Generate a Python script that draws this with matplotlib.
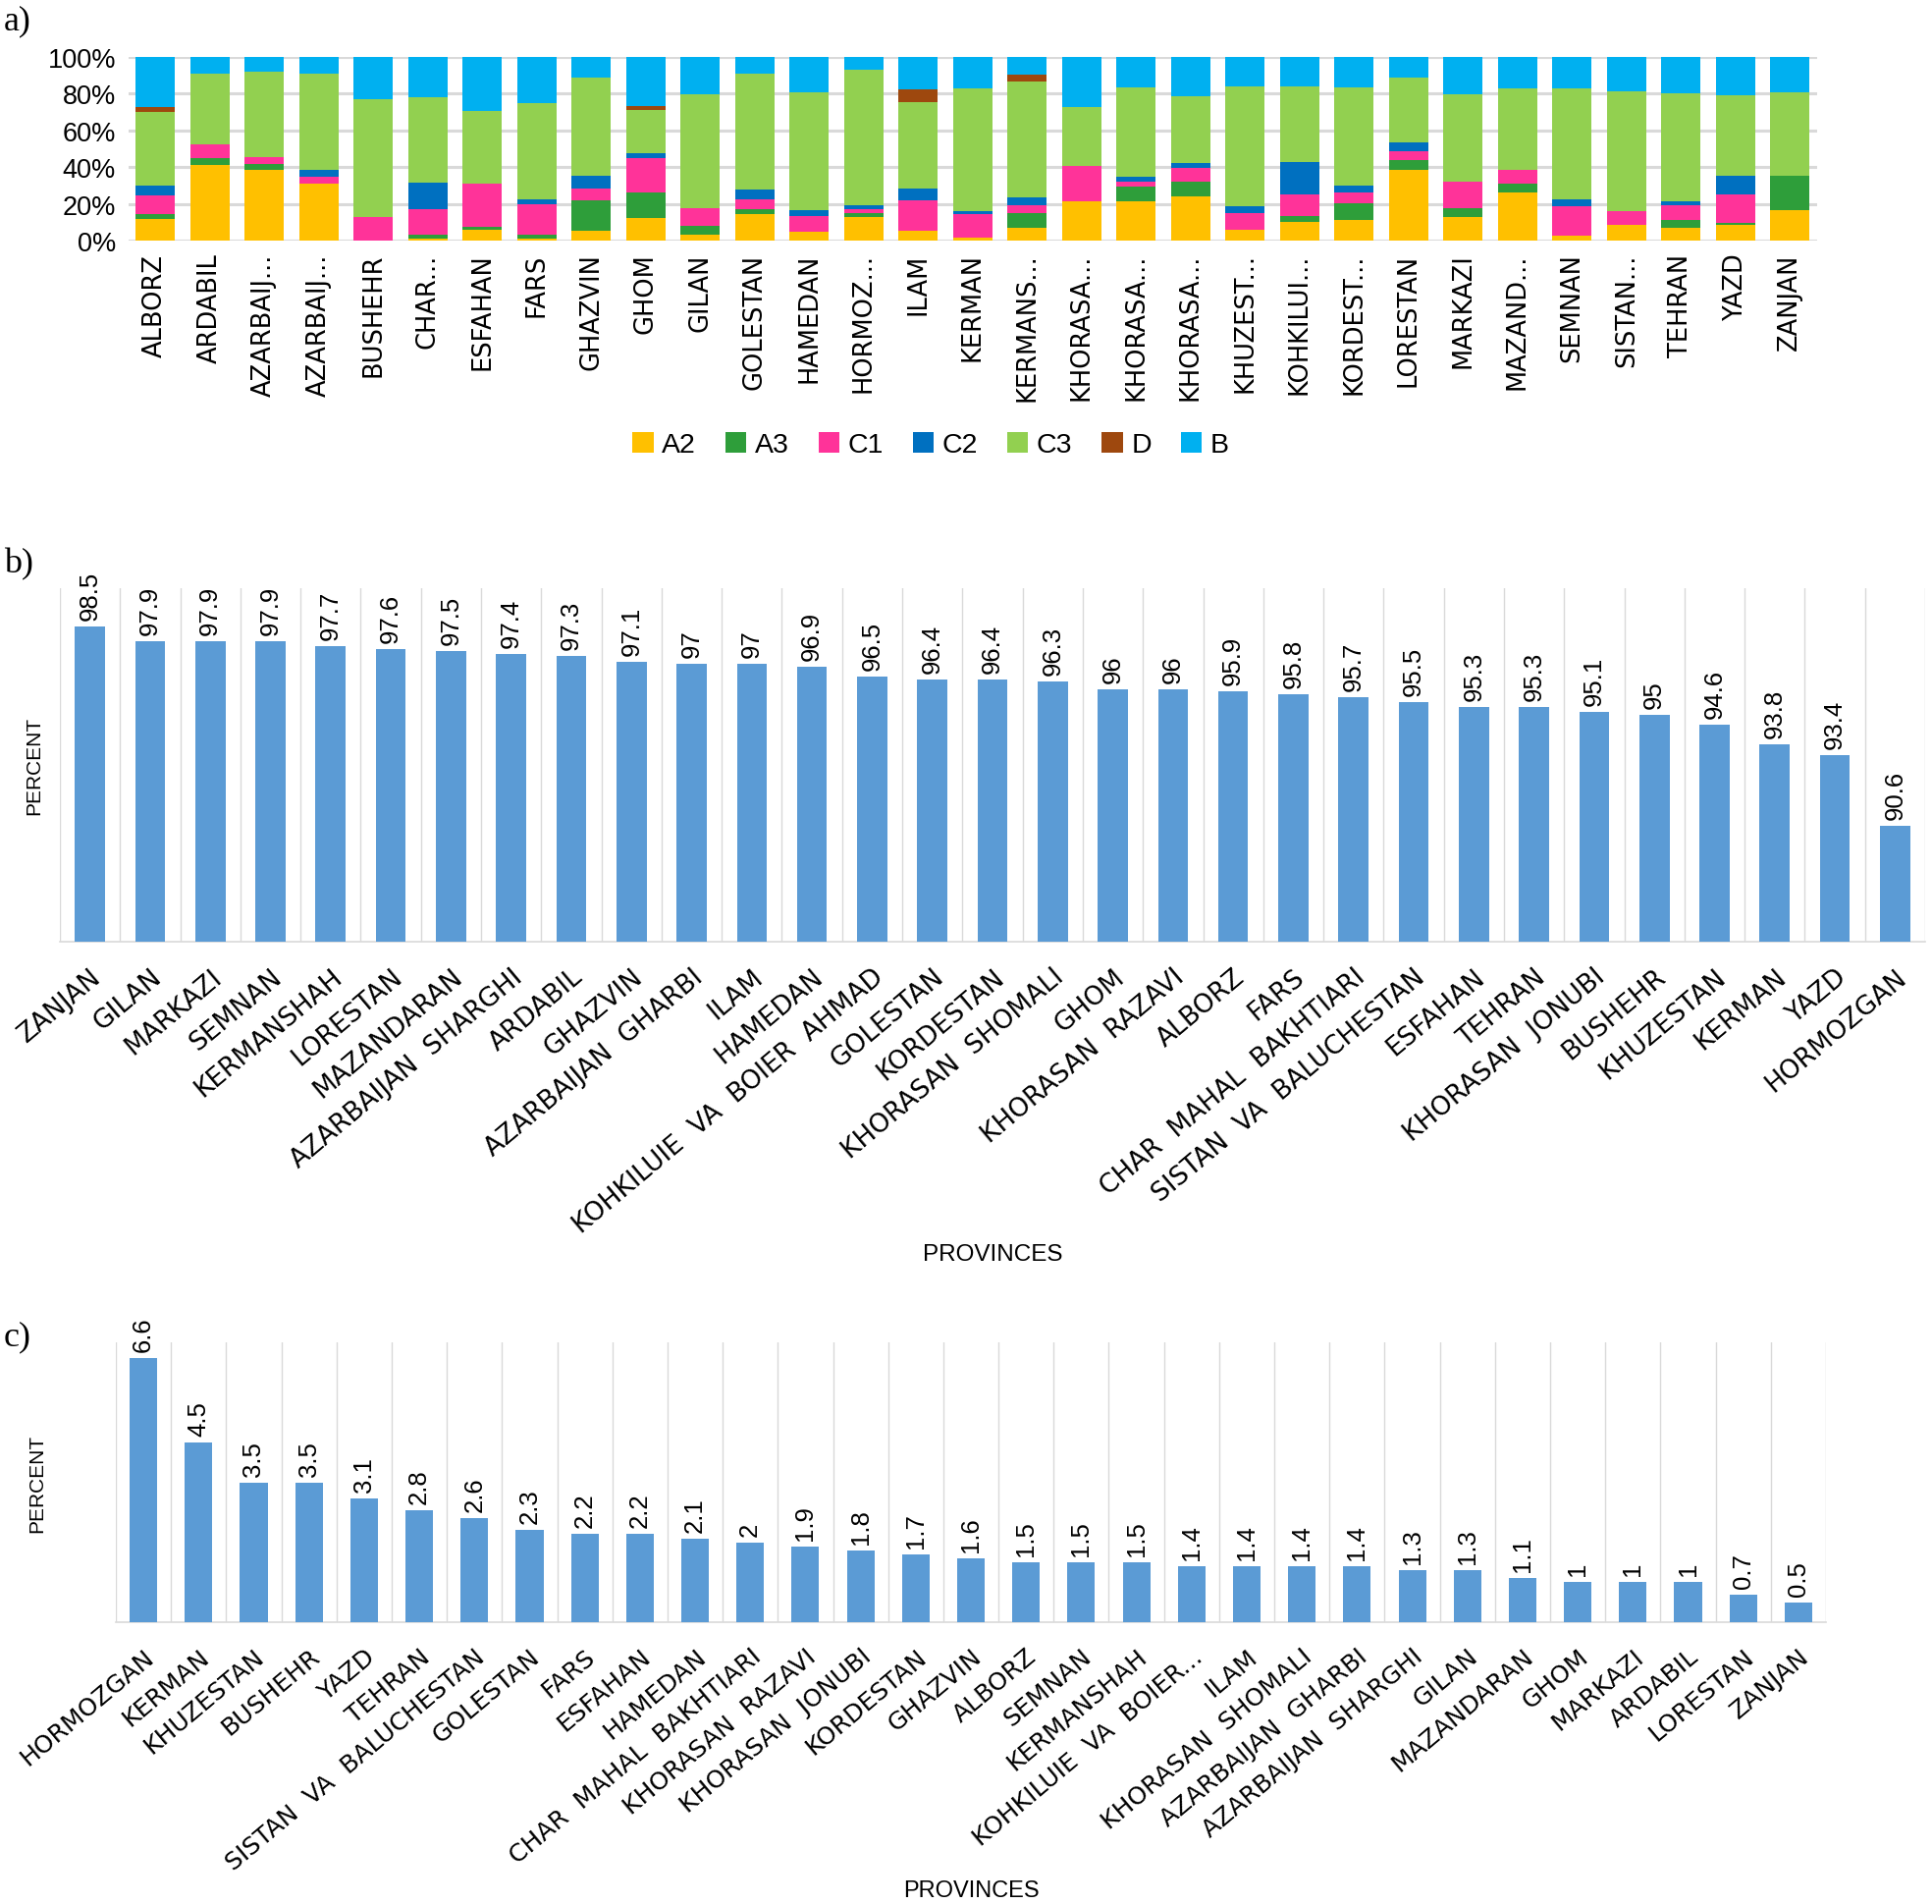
import matplotlib
matplotlib.use("Agg")
import matplotlib.pyplot as plt
import numpy as np

# ---------------- Panel a data ----------------
cats_a = ["ALBORZ", "ARDABIL", "AZARBAIJ...", "AZARBAIJ...", "BUSHEHR", "CHAR...",
          "ESFAHAN", "FARS", "GHAZVIN", "GHOM", "GILAN", "GOLESTAN", "HAMEDAN",
          "HORMOZ...", "ILAM", "KERMAN", "KERMANS...", "KHORASA...", "KHORASA...",
          "KHORASA...", "KHUZEST...", "KOHKILUI...", "KORDEST...", "LORESTAN",
          "MARKAZI", "MAZAND...", "SEMNAN", "SISTAN...", "TEHRAN", "YAZD", "ZANJAN"]
A2 = [11.8, 41.1, 38.4, 30.8, 0.0, 0.9, 5.8, 0.9, 5.3, 12.3, 3.1, 14.5, 4.7, 12.9, 5.3, 1.4,
      6.9, 21.6, 21.6, 24.3, 5.8, 10.1, 11.2, 38.4, 12.9, 26.4, 2.5, 8.5, 6.9, 8.5, 16.7]
A3 = [2.7, 3.8, 3.4, 0.0, 0.0, 2.2, 1.6, 2.2, 16.8, 14.1, 4.9, 2.7, 0.0, 2.1, 0.0, 0.0,
      8.1, 0.0, 7.6, 7.6, 0.0, 3.3, 9.3, 5.4, 4.9, 4.4, 0.0, 0.0, 4.3, 1.1, 18.4]
C1 = [10.3, 7.6, 3.6, 3.8, 12.9, 14.1, 23.4, 16.8, 6.5, 18.5, 9.8, 5.4, 8.7, 2.2, 16.8, 13.1,
      4.4, 19.0, 2.7, 7.6, 9.2, 12.0, 5.9, 4.9, 14.1, 7.6, 16.3, 7.6, 8.2, 15.8, 0.0]
C2 = [5.4, 0.0, 0.0, 3.8, 0.0, 14.1, 0.0, 2.7, 6.5, 2.7, 0.0, 5.4, 3.3, 2.2, 6.5, 1.6,
      4.3, 0.0, 2.7, 2.7, 3.8, 17.4, 3.3, 4.9, 0.0, 0.0, 3.8, 0.0, 2.2, 9.7, 0.0]
C3 = [39.9, 38.6, 46.7, 52.7, 64.1, 46.8, 39.7, 52.2, 53.9, 23.4, 61.9, 63.0, 64.1, 73.4, 46.8, 66.9,
      63.1, 32.0, 48.9, 36.4, 65.3, 41.3, 53.8, 35.4, 47.8, 44.6, 60.4, 65.2, 58.7, 44.1, 45.7]
D = [2.5, 0.0, 0.0, 0.0, 0.0, 0.0, 0.0, 0.0, 0.0, 2.2, 0.0, 0.0, 0.0, 0.0, 7.0, 0.0,
     3.8, 0.0, 0.0, 0.0, 0.0, 0.0, 0.0, 0.0, 0.0, 0.0, 0.0, 0.0, 0.0, 0.0, 0.0]
B = [27.4, 8.9, 7.8, 8.9, 23.0, 21.9, 29.5, 25.2, 11.0, 26.8, 20.3, 8.9, 19.2, 7.2, 17.6, 17.0,
     9.4, 27.4, 16.5, 21.4, 15.9, 15.9, 16.5, 11.0, 20.3, 17.0, 17.0, 18.7, 19.7, 20.8, 19.2]
series_names = ["A2", "A3", "C1", "C2", "C3", "D", "B"]
series_colors = ["#FFC000", "#2E9E3A", "#FF3399", "#0070C0", "#92D050", "#9E480E", "#00B0F0"]

# ---------------- Panel b data ----------------
cats_b = ["ZANJAN", "GILAN", "MARKAZI", "SEMNAN", "KERMANSHAH", "LORESTAN", "MAZANDARAN",
          "AZARBAIJAN  SHARGHI", "ARDABIL", "GHAZVIN", "AZARBAIJAN  GHARBI", "ILAM", "HAMEDAN",
          "KOHKILUIE  VA  BOIER  AHMAD", "GOLESTAN", "KORDESTAN", "KHORASAN  SHOMALI", "GHOM",
          "KHORASAN  RAZAVI", "ALBORZ", "FARS", "CHAR  MAHAL  BAKHTIARI", "SISTAN  VA  BALUCHESTAN",
          "ESFAHAN", "TEHRAN", "KHORASAN  JONUBI", "BUSHEHR", "KHUZESTAN", "KERMAN", "YAZD",
          "HORMOZGAN"]
vals_b = [98.5, 97.9, 97.9, 97.9, 97.7, 97.6, 97.5, 97.4, 97.3, 97.1, 97, 97, 96.9, 96.5, 96.4,
          96.4, 96.3, 96, 96, 95.9, 95.8, 95.7, 95.5, 95.3, 95.3, 95.1, 95, 94.6, 93.8, 93.4, 90.6]

# ---------------- Panel c data ----------------
cats_c = ["HORMOZGAN", "KERMAN", "KHUZESTAN", "BUSHEHR", "YAZD", "TEHRAN",
          "SISTAN  VA  BALUCHESTAN", "GOLESTAN", "FARS", "ESFAHAN", "HAMEDAN",
          "CHAR  MAHAL  BAKHTIARI", "KHORASAN  RAZAVI", "KHORASAN  JONUBI", "KORDESTAN",
          "GHAZVIN", "ALBORZ", "SEMNAN", "KERMANSHAH", "KOHKILUIE  VA  BOIER...", "ILAM",
          "KHORASAN  SHOMALI", "AZARBAIJAN  GHARBI", "AZARBAIJAN  SHARGHI", "GILAN",
          "MAZANDARAN", "GHOM", "MARKAZI", "ARDABIL", "LORESTAN", "ZANJAN"]
vals_c = [6.6, 4.5, 3.5, 3.5, 3.1, 2.8, 2.6, 2.3, 2.2, 2.2, 2.1, 2, 1.9, 1.8, 1.7, 1.6, 1.5,
          1.5, 1.5, 1.4, 1.4, 1.4, 1.4, 1.3, 1.3, 1.1, 1, 1, 1, 0.7, 0.5]

W, H = 1968, 1940
fig = plt.figure(figsize=(W / 100, H / 100), dpi=100)
fig.patch.set_facecolor("white")

grid_col = "#D9D9D9"
bar_col = "#5B9BD5"

# ================= Panel a =================
ax = fig.add_axes([130.5 / W, 1 - 246 / H, 1720.5 / W, 187 / H])
x = np.arange(len(cats_a))
bottom = np.zeros(len(cats_a))
handles = []
for name, col, vals in zip(series_names, series_colors, [A2, A3, C1, C2, C3, D, B]):
    v = np.array(vals)
    h = ax.bar(x, v, bottom=bottom, width=0.72, color=col, label=name, zorder=3, linewidth=0)
    handles.append(h)
    bottom += v
ax.set_xlim(-0.5, len(cats_a) - 0.5)
ax.set_ylim(0, 100)
ax.set_yticks([0, 20, 40, 60, 80, 100])
ax.set_yticklabels(["0%", "20%", "40%", "60%", "80%", "100%"], fontsize=19.5,
                   family="Liberation Sans")
ax.set_xticks(x)
ax.set_xticklabels(cats_a, rotation=90, fontsize=18.5, family="DejaVu Sans", va="top")
ax.tick_params(axis="both", length=0)
ax.tick_params(axis="x", pad=9)
ax.tick_params(axis="y", pad=9)
for s in ax.spines.values():
    s.set_visible(False)
ax.yaxis.grid(True, color=grid_col, linewidth=2.2, zorder=0)
ax.set_axisbelow(True)

leg = fig.legend(handles=handles, labels=series_names, loc="center",
                 bbox_to_anchor=(948 / W, 1 - 454 / H), ncol=7, frameon=False,
                 prop={"family": "Liberation Sans", "size": 20.5},
                 handlelength=0.75, handleheight=0.75, handletextpad=0.3,
                 columnspacing=1.05)

fig.text(4 / W, 1 - 22 / H, "a)", fontsize=26, family="Liberation Serif", va="center")

# ================= Panel b =================
axb = fig.add_axes([61 / W, 1 - 960 / H, 1900 / W, 360 / H])
xb = np.arange(len(cats_b))
bars = axb.bar(xb, vals_b, width=0.5, color=bar_col, zorder=3, linewidth=0)
axb.set_ylim(86, 100)
axb.set_xlim(-0.5, len(cats_b) - 0.5)
axb.bar_label(bars, labels=["%g" % v for v in vals_b], rotation=90, padding=5,
              fontsize=18.5, family="Liberation Sans")
axb.set_yticks([])
axb.set_xticks(xb)
axb.set_xticklabels(cats_b, rotation=40, ha="right", va="top", rotation_mode="anchor",
                    fontsize=19, family="DejaVu Sans")
axb.tick_params(axis="x", length=0, pad=16)
for xv in np.arange(-0.5, len(cats_b), 1.0):
    axb.axvline(xv, color=grid_col, linewidth=1.0, zorder=1)
for k, s in axb.spines.items():
    s.set_visible(k == "bottom")
axb.spines["bottom"].set_color(grid_col)
axb.spines["bottom"].set_linewidth(1.2)
axb.set_ylabel("PERCENT", fontsize=15, family="Liberation Sans", labelpad=12)
fig.text(1011 / W, 1 - 1278 / H, "PROVINCES", fontsize=17.5, family="Liberation Sans",
         ha="center", va="center")

fig.text(4 / W, 1 - 575 / H, "b)", fontsize=26, family="Liberation Serif", va="center")

# ================= Panel c =================
axc = fig.add_axes([118 / W, 1 - 1653 / H, 1742 / W, 285 / H])
xc = np.arange(len(cats_c))
bars_c = axc.bar(xc, vals_c, width=0.5, color=bar_col, zorder=3, linewidth=0)
axc.set_ylim(0, 7)
axc.set_xlim(-0.5, len(cats_c) - 0.5)
axc.bar_label(bars_c, labels=["%g" % v for v in vals_c], rotation=90, padding=5,
              fontsize=18.5, family="Liberation Sans")
axc.set_yticks([])
axc.set_xticks(xc)
axc.set_xticklabels(cats_c, rotation=40, ha="right", va="top", rotation_mode="anchor",
                    fontsize=18, family="DejaVu Sans")
axc.tick_params(axis="x", length=0, pad=16)
for xv in np.arange(-0.5, len(cats_c), 1.0):
    axc.axvline(xv, color=grid_col, linewidth=1.0, zorder=1)
for k, s in axc.spines.items():
    s.set_visible(k == "bottom")
axc.spines["bottom"].set_color(grid_col)
axc.spines["bottom"].set_linewidth(1.2)
axc.set_ylabel("PERCENT", fontsize=15, family="Liberation Sans", labelpad=51)
fig.text(989 / W, 1 - 1926 / H, "PROVINCES", fontsize=17, family="Liberation Sans",
         ha="center", va="center")

fig.text(4 / W, 1 - 1362 / H, "c)", fontsize=26, family="Liberation Serif", va="center")

fig.savefig("out.png", dpi=100, facecolor="white")
